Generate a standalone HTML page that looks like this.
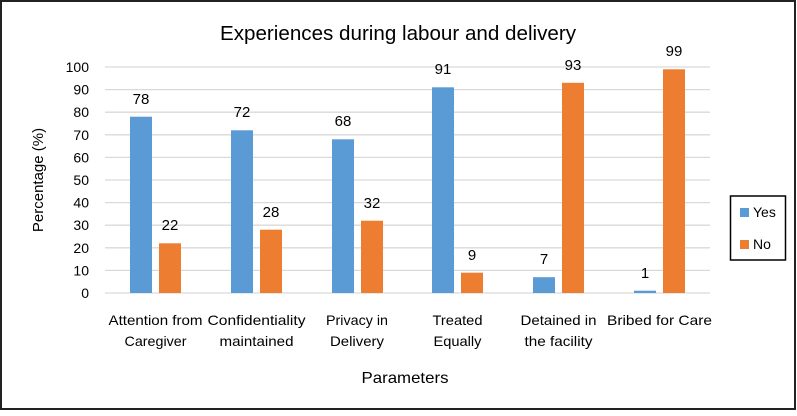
<!DOCTYPE html>
<html><head><meta charset="utf-8"><style>
body{margin:0;background:#fff}
svg text{font-family:"Liberation Sans",sans-serif;fill:#000}
</style></head><body>
<svg width="797" height="411" viewBox="0 0 797 411" xmlns="http://www.w3.org/2000/svg">
<rect x="1" y="1" width="794" height="408" fill="#fff" stroke="#222" stroke-width="2"/>
<text x="398" y="40" font-size="20" text-anchor="middle" textLength="356" lengthAdjust="spacingAndGlyphs">Experiences during labour and delivery</text>
<g stroke="#d9d9d9" stroke-width="1.3">
<line x1="105" x2="710" y1="67" y2="67"/><line x1="105" x2="710" y1="89.6" y2="89.6"/>
<line x1="105" x2="710" y1="112.2" y2="112.2"/><line x1="105" x2="710" y1="134.8" y2="134.8"/>
<line x1="105" x2="710" y1="157.4" y2="157.4"/><line x1="105" x2="710" y1="180" y2="180"/>
<line x1="105" x2="710" y1="202.6" y2="202.6"/><line x1="105" x2="710" y1="225.2" y2="225.2"/>
<line x1="105" x2="710" y1="247.8" y2="247.8"/><line x1="105" x2="710" y1="270.4" y2="270.4"/>
<line x1="105" x2="710" y1="293" y2="293"/>
</g>
<g font-size="14" text-anchor="end">
<text x="89" y="72">100</text><text x="89" y="94.6">90</text><text x="89" y="117.2">80</text>
<text x="89" y="139.8">70</text><text x="89" y="162.4">60</text><text x="89" y="185">50</text>
<text x="89" y="207.6">40</text><text x="89" y="230.2">30</text><text x="89" y="252.8">20</text>
<text x="89" y="275.4">10</text><text x="89" y="298">0</text>
</g>
<text transform="translate(43,180) rotate(-90)" font-size="15" text-anchor="middle">Percentage (%)</text>
<g fill="#5b9bd5">
<rect x="130" y="116.7" width="22" height="176.3"/>
<rect x="231" y="130.3" width="22" height="162.7"/>
<rect x="332" y="139.3" width="22" height="153.7"/>
<rect x="432" y="87.3" width="22" height="205.7"/>
<rect x="533" y="277.2" width="22" height="15.8"/>
<rect x="634" y="290.7" width="22" height="2.3"/>
</g>
<g fill="#ed7d31">
<rect x="159" y="243.3" width="22" height="49.7"/>
<rect x="260" y="229.7" width="22" height="63.3"/>
<rect x="361" y="220.7" width="22" height="72.3"/>
<rect x="461" y="272.7" width="22" height="20.3"/>
<rect x="562" y="82.8" width="22" height="210.2"/>
<rect x="663" y="69.3" width="22" height="223.7"/>
</g>
<g font-size="15" text-anchor="middle">
<text x="141" y="104">78</text><text x="170" y="230">22</text>
<text x="242" y="117">72</text><text x="271" y="217">28</text>
<text x="343" y="126">68</text><text x="372" y="208">32</text>
<text x="443" y="74">91</text><text x="472" y="260">9</text>
<text x="544" y="264">7</text><text x="573" y="70">93</text>
<text x="645" y="278">1</text><text x="674" y="56">99</text>
</g>
<g font-size="14" text-anchor="middle">
<text x="155.5" y="325" textLength="94" lengthAdjust="spacingAndGlyphs">Attention from</text>
<text x="155.5" y="346" textLength="62" lengthAdjust="spacingAndGlyphs">Caregiver</text>
<text x="256.5" y="325" textLength="98" lengthAdjust="spacingAndGlyphs">Confidentiality</text>
<text x="256.5" y="346" textLength="74" lengthAdjust="spacingAndGlyphs">maintained</text>
<text x="357" y="325" textLength="62" lengthAdjust="spacingAndGlyphs">Privacy in</text>
<text x="357" y="346" textLength="54" lengthAdjust="spacingAndGlyphs">Delivery</text>
<text x="457.5" y="325" textLength="50" lengthAdjust="spacingAndGlyphs">Treated</text>
<text x="457.5" y="346" textLength="48" lengthAdjust="spacingAndGlyphs">Equally</text>
<text x="558.5" y="325" textLength="76" lengthAdjust="spacingAndGlyphs">Detained in</text>
<text x="558.5" y="346" textLength="68" lengthAdjust="spacingAndGlyphs">the facility</text>
<text x="659.5" y="325" textLength="105" lengthAdjust="spacingAndGlyphs">Bribed for Care</text>
</g>
<text x="405" y="383" font-size="16" text-anchor="middle" textLength="87" lengthAdjust="spacingAndGlyphs">Parameters</text>
<rect x="730.5" y="196" width="55" height="64" fill="#fff" stroke="#000" stroke-width="1.5"/>
<rect x="740" y="208" width="9" height="9" fill="#5b9bd5"/>
<text x="753" y="217" font-size="14">Yes</text>
<rect x="740" y="240" width="9" height="9" fill="#ed7d31"/>
<text x="753" y="249" font-size="14">No</text>
</svg>
</body></html>
